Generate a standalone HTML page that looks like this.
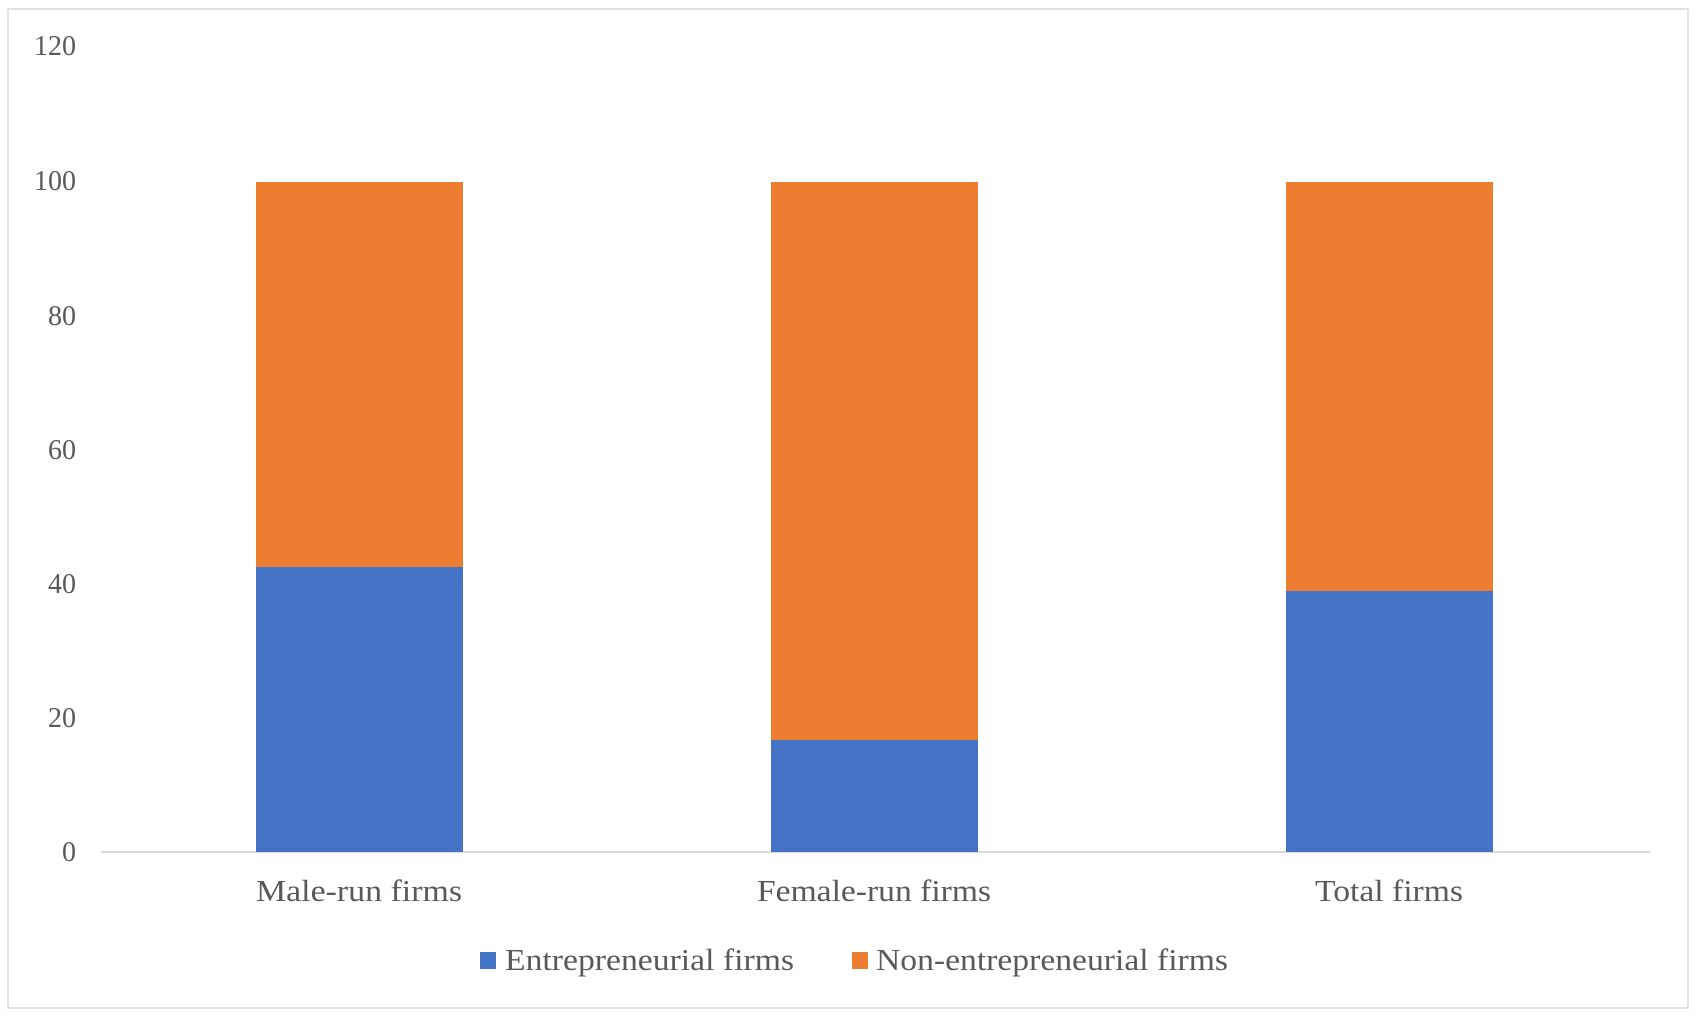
<!DOCTYPE html>
<html><head><meta charset="utf-8"><style>
html,body{margin:0;padding:0;background:#fff;}
</style></head><body>
<svg width="1698" height="1016" xmlns="http://www.w3.org/2000/svg" font-family="Liberation Serif, serif" fill="#595959">
<rect x="8" y="9" width="1680" height="999" fill="#fff" stroke="#d9d9d9" stroke-width="1.5"/>
<g font-size="28" text-anchor="end">
<text x="76" y="55">120</text>
<text x="76" y="190">100</text>
<text x="76" y="325">80</text>
<text x="76" y="459">60</text>
<text x="76" y="593">40</text>
<text x="76" y="727">20</text>
<text x="76" y="861">0</text>
</g>
<line x1="101" y1="852" x2="1650" y2="852" stroke="#d9d9d9" stroke-width="2"/>
<rect x="256" y="567" width="207" height="285" fill="#4472c4"/>
<rect x="256" y="182" width="207" height="385" fill="#ed7d31"/>
<rect x="771" y="740" width="207" height="112" fill="#4472c4"/>
<rect x="771" y="182" width="207" height="558" fill="#ed7d31"/>
<rect x="1286" y="591" width="207" height="261" fill="#4472c4"/>
<rect x="1286" y="182" width="207" height="409" fill="#ed7d31"/>
<g font-size="31">
<text x="256" y="901" textLength="206" lengthAdjust="spacingAndGlyphs">Male-run firms</text>
<text x="757" y="901" textLength="234" lengthAdjust="spacingAndGlyphs">Female-run firms</text>
<text x="1315" y="901" textLength="148" lengthAdjust="spacingAndGlyphs">Total firms</text>
</g>
<rect x="480" y="952" width="16" height="17" fill="#4472c4"/>
<text x="505" y="970" font-size="31" textLength="289" lengthAdjust="spacingAndGlyphs">Entrepreneurial firms</text>
<rect x="852" y="952" width="16" height="17" fill="#ed7d31"/>
<text x="876" y="970" font-size="31" textLength="352" lengthAdjust="spacingAndGlyphs">Non-entrepreneurial firms</text>
</svg>
</body></html>
